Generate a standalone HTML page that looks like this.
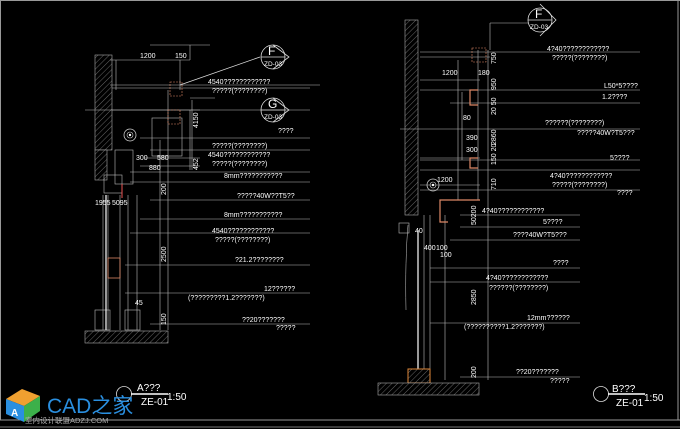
<!DOCTYPE html>
<html><head><meta charset="utf-8"><style>
html,body{margin:0;padding:0;background:#000;}
svg{display:block}
text{font-family:"Liberation Sans","Noto Sans CJK SC",sans-serif;fill:#fff}
</style></head><body>
<svg width="680" height="429" viewBox="0 0 680 429" font-size="7" xmlns="http://www.w3.org/2000/svg">
<defs>
<pattern id="h" width="4" height="4" patternUnits="userSpaceOnUse" patternTransform="rotate(45)">
<rect width="4" height="4" fill="#000"/><line x1="0" y1="0" x2="0" y2="4" stroke="#666" stroke-width="1"/></pattern>
</defs>
<rect width="680" height="429" fill="#000"/>
<!-- frame -->
<line x1="0" y1="0.5" x2="680" y2="0.5" stroke="#999" />
<line x1="678" y1="0" x2="678" y2="420" stroke="#999"/>
<line x1="0.5" y1="0" x2="0.5" y2="420" stroke="#999"/>
<line x1="0" y1="420" x2="680" y2="420" stroke="#999"/>
<line x1="0" y1="427" x2="680" y2="427" stroke="#777"/>

<!-- LEFT DRAWING -->
<rect x="95" y="55" width="17" height="95" fill="url(#h)" stroke="#aaa" stroke-width="0.6"/>
<rect x="95" y="150" width="12" height="30" fill="url(#h)" stroke="#aaa" stroke-width="0.6"/>
<g stroke="#bbb" stroke-width="0.6" fill="none">
<line x1="110" y1="85" x2="320" y2="85"/>
<line x1="85" y1="110" x2="200" y2="110"/>
<line x1="112" y1="88" x2="310" y2="88"/>
<line x1="112" y1="110" x2="310" y2="110"/>
<line x1="140" y1="138" x2="310" y2="138"/>
<line x1="150" y1="150" x2="310" y2="150"/>
<line x1="130" y1="172" x2="310" y2="172"/>
<line x1="130" y1="182" x2="310" y2="182"/>
<line x1="150" y1="200" x2="310" y2="200"/>
<line x1="140" y1="219" x2="310" y2="219"/>
<line x1="130" y1="233" x2="310" y2="233"/>
<line x1="125" y1="265" x2="310" y2="265"/>
<line x1="125" y1="293" x2="310" y2="293"/>
<line x1="150" y1="324" x2="310" y2="324"/>
<line x1="110" y1="60" x2="190" y2="60"/>
<line x1="116" y1="60" x2="116" y2="90"/>
<line x1="180" y1="60" x2="180" y2="90"/>
<rect x="152" y="118" width="30" height="38"/>
<rect x="115" y="150" width="18" height="34"/>
<rect x="104" y="175" width="18" height="18"/>
<line x1="103" y1="195" x2="103" y2="330"/>
<line x1="108" y1="195" x2="108" y2="330"/>
<line x1="120" y1="195" x2="120" y2="330"/>
<line x1="128" y1="195" x2="128" y2="330"/>
<line x1="137" y1="195" x2="137" y2="330"/>
<line x1="160" y1="140" x2="160" y2="330"/>
<line x1="168" y1="90" x2="168" y2="330"/>
<line x1="190" y1="110" x2="190" y2="170"/>
<line x1="192" y1="100" x2="192" y2="170"/>
<line x1="145" y1="158" x2="200" y2="158"/>
<line x1="140" y1="166" x2="200" y2="166"/>
<rect x="95" y="310" width="15" height="20"/>
<rect x="125" y="310" width="15" height="20"/>
<line x1="150" y1="45" x2="210" y2="45"/>
<line x1="190" y1="45" x2="190" y2="60"/>
<line x1="190" y1="98" x2="215" y2="98"/>
</g>
<rect x="170" y="82" width="12" height="14" fill="none" stroke="#d86" stroke-width="0.6" stroke-dasharray="2 1"/>
<rect x="168" y="110" width="12" height="14" fill="none" stroke="#d86" stroke-width="0.6" stroke-dasharray="2 1"/>
<rect x="108" y="258" width="12" height="20" fill="none" stroke="#d86" stroke-width="0.8"/>
<line x1="122" y1="184" x2="122" y2="198" stroke="#e55" stroke-width="1"/>
<line x1="106" y1="195" x2="106" y2="330" stroke="#fff" stroke-width="1.2"/>
<circle cx="130" cy="135" r="6" fill="none" stroke="#ccc" stroke-width="0.8"/>
<circle cx="130" cy="135" r="3" fill="none" stroke="#ccc" stroke-width="0.6"/>
<circle cx="130" cy="135" r="1.2" fill="#fff"/>
<rect x="85" y="331" width="83" height="12" fill="url(#h)" stroke="#aaa" stroke-width="0.6"/>
<!-- section marks left -->
<g stroke="#ddd" stroke-width="0.8" fill="none">
<circle cx="273" cy="57" r="12"/><line x1="261" y1="57" x2="285" y2="57"/><path d="M273 45 L289 57 L273 69"/>
<circle cx="273" cy="110" r="12"/><line x1="261" y1="110" x2="285" y2="110"/><path d="M273 98 L289 110 L273 122"/>
<line x1="180" y1="85" x2="260" y2="57"/>
</g>
<text x="268" y="55" font-size="12">F</text><text x="264" y="66" font-size="6.5">ZD-03</text>
<text x="268" y="108" font-size="12">G</text><text x="264" y="119" font-size="6.5">ZD-03</text>
<text x="140" y="58">1200</text><text x="175" y="58">150</text>
<text x="208" y="84">4540????????????</text><text x="212" y="93">?????(????????)</text>
<text x="278" y="133">????</text>
<text x="212" y="148">?????(????????)</text>
<text x="208" y="157">4540????????????</text><text x="212" y="166">?????(????????)</text>
<text x="224" y="178">8mm???????????</text>
<text x="237" y="198">?????40W??T5??</text>
<text x="224" y="217">8mm???????????</text>
<text x="212" y="233">4540????????????</text><text x="215" y="242">?????(????????)</text>
<text x="235" y="262">?21.2????????</text>
<text x="264" y="291">12??????</text>
<text x="188" y="300">(?????????1.2???????)</text>
<text x="242" y="322">??20???????</text><text x="276" y="330">?????</text>
<text x="136" y="160">300</text><text x="157" y="160">580</text><text x="149" y="170">880</text>
<text x="95" y="205">1955</text><text x="112" y="205">5095</text>
<text x="135" y="305">45</text>
<text transform="translate(198,128) rotate(-90)">4150</text>
<text transform="translate(198,170) rotate(-90)">452</text>
<text transform="translate(166,195) rotate(-90)">200</text>
<text transform="translate(166,262) rotate(-90)">2500</text>
<text transform="translate(166,325) rotate(-90)">150</text>

<!-- RIGHT DRAWING -->
<rect x="405" y="20" width="13" height="195" fill="url(#h)" stroke="#aaa" stroke-width="0.6"/>
<g stroke="#bbb" stroke-width="0.6" fill="none">
<line x1="420" y1="52" x2="640" y2="52"/>
<line x1="420" y1="90" x2="640" y2="90"/>
<line x1="450" y1="103" x2="640" y2="103"/>
<line x1="400" y1="129" x2="640" y2="129"/>
<line x1="420" y1="160" x2="640" y2="160"/>
<line x1="420" y1="170" x2="640" y2="170"/>
<line x1="420" y1="190" x2="640" y2="190"/>
<line x1="460" y1="215" x2="580" y2="215"/>
<line x1="460" y1="227" x2="580" y2="227"/>
<line x1="450" y1="240" x2="580" y2="240"/>
<line x1="430" y1="268" x2="580" y2="268"/>
<line x1="430" y1="282" x2="580" y2="282"/>
<line x1="430" y1="323" x2="580" y2="323"/>
<line x1="460" y1="377" x2="580" y2="377"/>
<line x1="420" y1="57" x2="490" y2="57"/>
<line x1="420" y1="80" x2="480" y2="80"/>
<line x1="420" y1="158" x2="480" y2="158"/>
<line x1="420" y1="185" x2="480" y2="185"/>
<line x1="462" y1="92" x2="462" y2="160"/>
<line x1="478" y1="50" x2="478" y2="200"/>
<line x1="488" y1="50" x2="488" y2="380"/>
<line x1="458" y1="60" x2="458" y2="200"/>
<line x1="424" y1="215" x2="424" y2="380"/>
<line x1="430" y1="215" x2="430" y2="380"/>
<line x1="445" y1="215" x2="445" y2="380"/>
<line x1="490" y1="23" x2="529" y2="23"/>
<line x1="490" y1="23" x2="490" y2="50"/>
<rect x="399" y="223" width="10" height="10"/>
</g>
<rect x="472" y="48" width="14" height="14" fill="none" stroke="#d86" stroke-width="0.6" stroke-dasharray="2 1"/>
<path d="M478 90 L470 90 L470 105 L478 105" fill="none" stroke="#d86" stroke-width="1.2"/>
<path d="M478 158 L470 158 L470 168 L478 168" fill="none" stroke="#d86" stroke-width="1.2"/>
<path d="M480 200 L440 200 L440 222 L448 222" fill="none" stroke="#d86" stroke-width="1.2"/>
<line x1="418" y1="230" x2="418" y2="375" stroke="#fff" stroke-width="1.2"/>
<path d="M408 225 Q405 260 406 310" fill="none" stroke="#ccc" stroke-width="0.5"/>
<circle cx="433" cy="185" r="6" fill="none" stroke="#ccc" stroke-width="0.8"/>
<circle cx="433" cy="185" r="3" fill="none" stroke="#ccc" stroke-width="0.6"/>
<circle cx="433" cy="185" r="1.2" fill="#fff"/>
<rect x="408" y="369" width="22" height="14" fill="url(#h)" stroke="#e0893a" stroke-width="1"/>
<rect x="378" y="383" width="101" height="12" fill="url(#h)" stroke="#aaa" stroke-width="0.6"/>
<g stroke="#ddd" stroke-width="0.8" fill="none">
<circle cx="540" cy="20" r="12"/><line x1="528" y1="20" x2="552" y2="20"/><path d="M540 4 L556 20 L540 36"/>
</g>
<text x="535" y="18" font-size="12">F</text><text x="530" y="29" font-size="6.5">ZD-03</text>
<text x="547" y="51">4?40????????????</text><text x="552" y="60">?????(????????)</text>
<text x="442" y="75">1200</text><text x="478" y="75">180</text>
<text x="604" y="88">L50*5????</text><text x="602" y="99">1.2????</text>
<text x="545" y="125">??????(????????)</text>
<text x="577" y="135">?????40W?T5???</text>
<text x="610" y="160">5????</text>
<text x="550" y="178">4?40????????????</text><text x="552" y="187">?????(????????)</text>
<text x="617" y="195">????</text>
<text x="482" y="213">4?40????????????</text>
<text x="543" y="224">5????</text>
<text x="513" y="237">????40W?T5???</text>
<text x="553" y="265">????</text>
<text x="486" y="280">4?40????????????</text><text x="489" y="290">??????(????????)</text>
<text x="527" y="320">12mm??????</text><text x="464" y="329">(??????????1.2???????)</text>
<text x="516" y="374">??20???????</text><text x="550" y="383">?????</text>
<text x="463" y="120">80</text><text x="466" y="140">390</text><text x="466" y="152">300</text>
<text x="437" y="182">1200</text><text x="424" y="250">400</text><text x="436" y="250">100</text><text x="440" y="257">100</text><text x="415" y="233">40</text>
<text transform="translate(496,64) rotate(-90)">750</text>
<text transform="translate(496,90) rotate(-90)">950</text>
<text transform="translate(496,115) rotate(-90)">20 50</text>
<text transform="translate(496,145) rotate(-90)">2860</text>
<text transform="translate(496,165) rotate(-90)">150 20</text>
<text transform="translate(496,190) rotate(-90)">710</text>
<text transform="translate(476,225) rotate(-90)">50200</text>
<text transform="translate(476,305) rotate(-90)">2850</text>
<text transform="translate(476,378) rotate(-90)">200</text>

<!-- titles -->
<g stroke="#ddd" stroke-width="0.8" fill="none">
<circle cx="124" cy="394" r="7.5"/><circle cx="601" cy="394" r="7.5"/>
</g>
<line x1="131" y1="394" x2="168" y2="394" stroke="#fff" stroke-width="1.6"/>
<line x1="608" y1="394" x2="645" y2="394" stroke="#fff" stroke-width="1.6"/>
<text x="137" y="391" font-size="10">A???</text><text x="141" y="405" font-size="10">ZE-01</text><text x="167" y="400" font-size="10">1:50</text>
<text x="612" y="392" font-size="10">B???</text><text x="616" y="406" font-size="10">ZE-01</text><text x="644" y="401" font-size="10">1:50</text>

<!-- logo -->
<polygon points="6,399 22,389 40,396 24,406" fill="#f0a030"/>
<polygon points="6,399 24,406 24,422 6,414" fill="#2a8fe0"/>
<polygon points="24,406 40,396 40,411 24,422" fill="#3cb04a"/>
<text x="11" y="416" font-size="10" style="fill:#fff;font-weight:bold">A</text>
<text x="47" y="413" font-size="21" style="fill:#2a8fe0">CAD之家</text>
<text x="25" y="423" font-size="7.5" style="fill:#aaa">室内设计联盟ADZJ.COM</text>
</svg>
</body></html>
